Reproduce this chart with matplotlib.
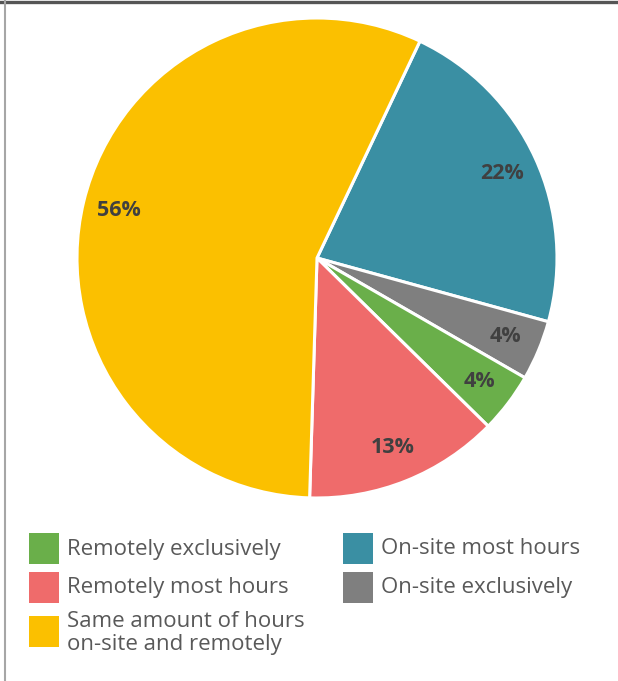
import matplotlib
matplotlib.use("Agg")
import matplotlib.pyplot as plt
from matplotlib.patches import Rectangle
from matplotlib.lines import Line2D
import numpy as np

# Work arrangement shares (percent), clockwise from the top
categories = ["On-site most hours", "On-site exclusively", "Remotely exclusively",
              "Remotely most hours", "Same amount of hours\non-site and remotely"]
shares = [22, 4, 4, 13, 56]
colors = ["#3A8FA3", "#7F7F7F", "#6AAF4A", "#EF6B6B", "#FBC000"]

W, H = 618, 681
fig = plt.figure(figsize=(W / 100, H / 100), dpi=100)
fig.patch.set_facecolor("white")

# pie axes: centre (317, 258) px, radius 240 px
cx, cy, r = 317, 258, 240
ax = fig.add_axes([(cx - r) / W, 1 - (cy + r) / H, 2 * r / W, 2 * r / H])
wedges, _ = ax.pie(shares, colors=colors, startangle=64.6, counterclock=False,
                   radius=1.0, wedgeprops=dict(edgecolor="white", linewidth=2.2))
ax.set_xlim(-1, 1)
ax.set_ylim(-1, 1)
ax.set_aspect("equal")
ax.axis("off")

for w, v in zip(wedges, shares):
    mid = np.deg2rad((w.theta1 + w.theta2) / 2)
    d = 0.85
    ax.text(d * np.cos(mid), d * np.sin(mid), f"{v}%", ha="center", va="center",
            fontsize=15.5, fontweight="bold", color="#404040", family="Open Sans")

# legend, two columns
legend_order = [2, 0, 3, 1, 4]
slots = [(29, 533), (343, 533), (29, 572), (343, 572), (29, 616)]
for idx, (x, y) in zip(legend_order, slots):
    fig.patches.append(Rectangle((x / W, 1 - (y + 31) / H), 30 / W, 31 / H,
                                 transform=fig.transFigure, facecolor=colors[idx],
                                 edgecolor="none"))
    if "\n" in categories[idx]:
        fig.text((x + 38) / W, 1 - (y - 5) / H, categories[idx], ha="left", va="top",
                 fontsize=16, color="#595959", family="Open Sans", linespacing=1.12)
    else:
        fig.text((x + 38) / W, 1 - (y + 16) / H, categories[idx], ha="left",
                 va="center", fontsize=16, color="#595959", family="Open Sans")

# frame lines
fig.add_artist(Line2D([0, 1], [1 - 1.5 / H, 1 - 1.5 / H], transform=fig.transFigure,
                      color="#555555", linewidth=2.4))
fig.add_artist(Line2D([5 / W, 5 / W], [0, 1], transform=fig.transFigure,
                      color="#A6A6A6", linewidth=1.5))

fig.savefig("out.png", dpi=100)
